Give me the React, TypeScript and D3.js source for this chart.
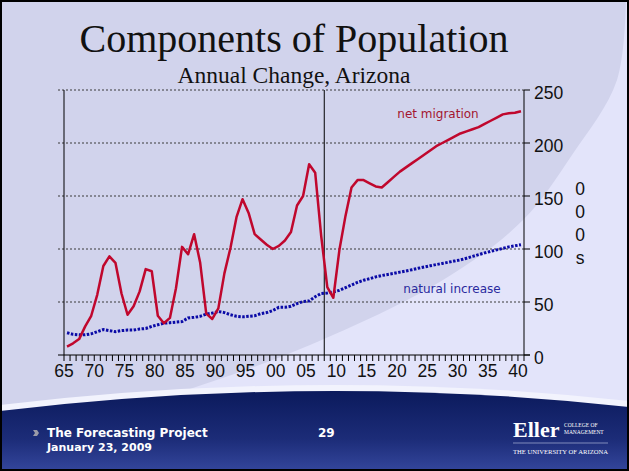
import React from "react";
import * as d3 from "d3";

const years: number[] = d3.range(1965, 2041);

const netMigration: number[] = [
  8, 11, 15, 27, 37, 57, 84, 93, 87, 58,
  38, 46, 60, 81, 79, 37, 30, 35, 63, 102,
  95, 114, 87, 39, 34, 44, 77, 101, 130, 147,
  134, 114, 109, 104, 100, 103, 108, 116, 141, 150,
  180, 172, 112, 64, 54, 99, 131, 158, 165, 165,
  162, 159, 158, 163, 168, 173, 177, 181, 185, 189,
  193, 197, 200, 203, 206, 209, 211, 213, 215, 218,
  221, 224, 227, 228, 228.5, 230,
];

const naturalIncrease: number[] = [
  21, 19.5, 19, 19, 20, 22, 24, 23, 22, 23,
  23.5, 23.5, 24.5, 25, 27, 28.5, 30, 30.5, 31, 31.5,
  35, 35.5, 36.5, 38.5, 39.5, 41, 40, 38, 36.5, 36,
  36.5, 37, 39, 40, 42, 45, 45, 46, 48.5, 50.5,
  51, 55, 58, 58.5, 59.5, 61, 63.5, 66, 68.5, 70.5,
  72, 73.7, 75, 76, 77, 78.2, 79.3, 80.5, 81.8, 83,
  84.2, 85.3, 86.4, 87.5, 88.6, 89.7, 91.3, 93, 94.7, 96.3,
  97.8, 99.2, 100.6, 102, 103, 104,
];

const xLabelYears: number[] = [1965, 1970, 1975, 1980, 1985, 1990, 1995, 2000, 2005, 2010, 2015, 2020, 2025, 2030, 2035, 2040];
const yTicks: number[] = [0, 50, 100, 150, 200, 250];
const unitLetters: string[] = ["0", "0", "0", "s"];
const forecastStartYear = 2008;

const title = "Components of Population";
const subtitle = "Annual Change, Arizona";

const W = 629;
const H = 471;
const L = 64, R = 524, T = 90, B = 355;

export default function App() {
  const x = d3.scaleBand<number>().domain(years).range([L, R]).paddingInner(0).paddingOuter(0);
  const bw = x.bandwidth();
  const xc = (yr: number) => (x(yr) as number) + bw / 2;
  const y = d3.scaleLinear().domain([0, 250]).range([B, T]);

  const line = d3
    .line<number>()
    .x((_, i) => xc(years[i]))
    .y((d) => y(d));

  const bgPts: [number, number][] = [
    [626, -5], [617, 80], [572, 155], [523, 220], [443, 280], [310, 345], [187, 390], [80, 420], [-10, 440],
  ];
  const bgCurve = d3.line().curve(d3.curveCatmullRom)(bgPts) as string;
  const darkPath = `${bgCurve} L-10,-10 Z`;

  const boundaries = years.map((yr) => x(yr) as number).concat([R]);

  return (
    <div style={{ position: "absolute", left: 0, top: 0 }}>
      <svg width={W} height={H} viewBox={`0 0 ${W} ${H}`} style={{ display: "block" }}>
        <defs>
          <linearGradient id="footerGrad" x1="0" y1="0" x2="0" y2="1">
            <stop offset="0" stopColor="#0b1a5c" />
            <stop offset="0.6" stopColor="#1c2c78" />
            <stop offset="1" stopColor="#34469c" />
          </linearGradient>
        </defs>
        {/* background */}
        <rect x={0} y={0} width={W} height={H} fill="#e3e4fa" />
        <path d={darkPath} fill="#d1d3ec" />
        {/* footer */}
        <path d="M0,405 Q320,367 629,401 L629,471 L0,471 Z" fill="#f2f3fd" />
        <path d="M0,411 Q320,373 629,407 L629,471 L0,471 Z" fill="url(#footerGrad)" />

        {/* titles */}
        <text x={294} y={52} textAnchor="middle" fontFamily="Liberation Serif, serif" fontSize={40} fill="#111">
          {title}
        </text>
        <text x={294} y={83} textAnchor="middle" fontFamily="Liberation Serif, serif" fontSize={23.5} fill="#111">
          {subtitle}
        </text>

        {/* gridlines */}
        {yTicks.filter((t) => t > 0).map((t) => (
          <line key={"g" + t} x1={58} x2={R} y1={y(t)} y2={y(t)} stroke="#3a3a3a" strokeWidth={1} strokeDasharray="2,2" />
        ))}
        {/* axes */}
        <line x1={L} x2={L} y1={T} y2={B} stroke="#000" strokeWidth={1} />
        <line x1={R} x2={R} y1={T} y2={B} stroke="#000" strokeWidth={1} />
        <line x1={58} x2={530} y1={B} y2={B} stroke="#000" strokeWidth={1} />
        {yTicks.map((t) => (
          <line key={"rt" + t} x1={R} x2={530} y1={y(t)} y2={y(t)} stroke="#000" strokeWidth={1} />
        ))}
        {boundaries.map((bx, i) => (
          <line key={"xt" + i} x1={bx} x2={bx} y1={B} y2={B + 6} stroke="#000" strokeWidth={1} />
        ))}
        {/* forecast divider */}
        <line x1={x(forecastStartYear) as number} x2={x(forecastStartYear) as number} y1={T} y2={B} stroke="#000" strokeWidth={1} />

        {/* series */}
        <path d={line(naturalIncrease) as string} fill="none" stroke="#0a0aa6" strokeWidth={3} strokeDasharray="2.5,1.5" />
        <path d={line(netMigration) as string} fill="none" stroke="#c0072d" strokeWidth={2.5} strokeLinejoin="round" />

        {/* series labels */}
        <text x={438} y={118} textAnchor="middle" fontFamily="DejaVu Sans, sans-serif" fontSize={12} fill="#a3162f">net migration</text>
        <text x={452} y={293} textAnchor="middle" fontFamily="DejaVu Sans, sans-serif" fontSize={12} fill="#2a2a9e">natural increase</text>

        {/* x labels */}
        {xLabelYears.map((yr) => (
          <text key={"xl" + yr} x={x(yr) as number} y={B + 22} textAnchor="middle" fontFamily="Liberation Sans, Arial, sans-serif" fontSize={17.5} fill="#111">
            {String(yr).slice(2)}
          </text>
        ))}
        {/* y labels */}
        {yTicks.map((t) => (
          <text key={"yl" + t} x={534} y={y(t) + 8.5} textAnchor="start" fontFamily="Liberation Sans, Arial, sans-serif" fontSize={17.5} fill="#111">
            {t}
          </text>
        ))}
        {unitLetters.map((c, i) => (
          <text key={"u" + i} x={580} y={195 + i * 23} textAnchor="middle" fontFamily="Liberation Sans, Arial, sans-serif" fontSize={17.5} fill="#111">
            {c}
          </text>
        ))}

        {/* footer text */}
        <path d="M33,430 L37,430 L39,433 L37,436 L33,436 L35,433 Z" fill="#9a9aa8" />
        <text x={47} y={437} fontFamily="DejaVu Sans, sans-serif" fontWeight="bold" fontSize={12} fill="#fff">The Forecasting Project</text>
        <text x={47} y={451} fontFamily="DejaVu Sans, sans-serif" fontWeight="bold" fontSize={11} fill="#fff">January 23, 2009</text>
        <text x={318} y={437} fontFamily="DejaVu Sans, sans-serif" fontWeight="bold" fontSize={12} fill="#fff">29</text>

        {/* logo */}
        <text x={513} y={437} fontFamily="Liberation Serif, serif" fontWeight="bold" fontSize={22} fill="#fff">Eller</text>
        <text x={564} y={427} fontFamily="Liberation Serif, serif" fontSize={5.5} fill="#fff">COLLEGE OF</text>
        <text x={564} y={434} fontFamily="Liberation Serif, serif" fontSize={5.5} fill="#fff">MANAGEMENT</text>
        <line x1={513} x2={608} y1={443} y2={443} stroke="#9aa3cc" strokeWidth={0.8} />
        <text x={513} y={454} fontFamily="Liberation Serif, serif" fontSize={6.5} fill="#fff" textLength={95} lengthAdjust="spacingAndGlyphs">THE UNIVERSITY OF ARIZONA</text>

        {/* frame */}
        <rect x={1} y={1} width={W - 2} height={H - 2} fill="none" stroke="#000" strokeWidth={2} />
      </svg>
    </div>
  );
}
